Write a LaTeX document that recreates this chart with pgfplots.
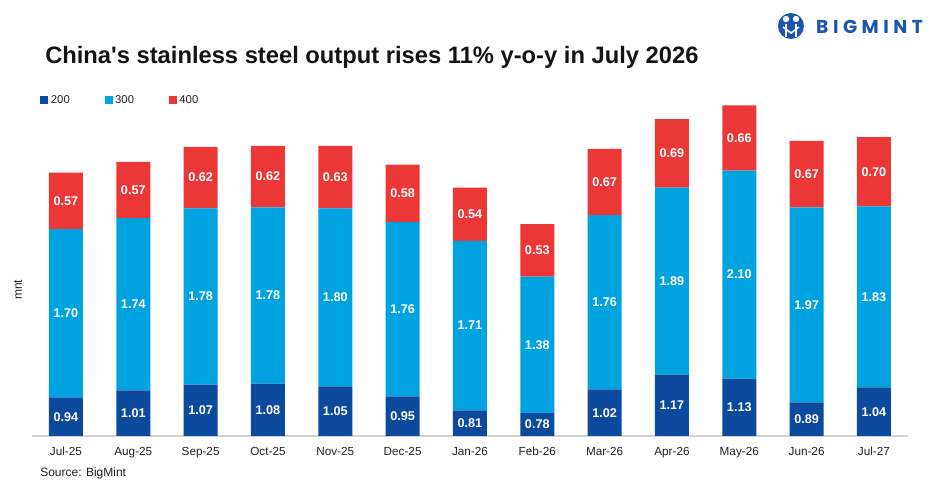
\documentclass[border=0pt]{standalone}
\usepackage{fontspec}
\setmainfont{Liberation Sans}
\newfontfamily\logofont{Poppins}[LetterSpace=24]
\usepackage{pgfplots}
\usepackage{pgfplotstable}
\pgfplotsset{compat=1.18}
\definecolor{c200}{HTML}{0B4A9C}
\definecolor{c300}{HTML}{00A3DF}
\definecolor{c400}{HTML}{EC3737}
\definecolor{logoblue}{HTML}{1A55B0}
\definecolor{txt}{HTML}{222222}
\pgfplotsset{sqlegend/.style={legend image code/.code={\fill[##1] (0pt,-3pt) rectangle (6pt,3pt);}}}
\pgfplotstableread{
x d200 d300 d400
0 0.94 1.70 0.57
1 1.01 1.74 0.57
2 1.07 1.78 0.62
3 1.08 1.78 0.62
4 1.05 1.80 0.63
5 0.95 1.76 0.58
6 0.81 1.71 0.54
7 0.78 1.38 0.53
8 1.02 1.76 0.67
9 1.17 1.89 0.69
10 1.13 2.10 0.66
11 0.89 1.97 0.67
12 1.04 1.83 0.70
}\data
\begin{document}
\begin{tikzpicture}
\path[use as bounding box] (-24.225pt,-45.75pt) rectangle (680.8pt,327pt);
\begin{axis}[
  at={(0,0)}, anchor=south west,
  x=50.5pt, y=74.25pt,
  xmin=-0.5, xmax=12.5, ymin=0.55, ymax=3.94,
  ybar stacked, bar width=25.5pt,
  axis x line*=bottom, axis y line=none,
  x axis line style={draw=black!18, line width=1.1pt, -},
  xtick={0,...,12},
  xticklabels={Jul-25,Aug-25,Sep-25,Oct-25,Nov-25,Dec-25,Jan-26,Feb-26,Mar-26,Apr-26,May-26,Jun-26,Jul-27},
  xtick style={draw=none},
  xticklabel style={font=\fontsize{8.8}{10}\selectfont, text=txt, yshift=-3pt, text height=1.6ex, text depth=0.3ex},
  ytick=\empty,
  /pgf/number format/assume math mode=true,
  legend style={at={(0.0088,1.0)}, anchor=west, draw=none, fill=none, inner sep=0pt,
    font=\fontsize{8.5}{10}\selectfont, text=txt,
    /tikz/every even column/.append style={column sep=24pt}},
  legend columns=3,
  legend cell align=left,
  visualization depends on=rawy\as\rawy,
  nodes near coords={\pgfmathprintnumber[fixed,fixed zerofill,precision=2,assume math mode=true]{\rawy}},
  every node near coord/.append style={anchor=center, font=\bfseries\fontsize{9.5}{10}\selectfont, text=white},
]
\addplot[fill=c200, draw=none, sqlegend, every node near coord/.append style={yshift=20.42pt}] table[x=x,y=d200] {\data};
\addplot[fill=c300, draw=none, sqlegend] table[x=x,y=d300] {\data};
\addplot[fill=c400, draw=none, sqlegend] table[x=x,y=d400] {\data};
\legend{200,300,400}
\end{axis}
\begin{scope}[shift={(-24.225pt,327pt)}, x=0.75pt, y=-0.75pt]
\node[anchor=base west, inner sep=0pt, font=\bfseries\fontsize{17.8}{20}\selectfont, text=black!92] at (45,64) {China\textquotesingle s stainless steel output rises 11\% y-o-y in July 2026};
\node[anchor=base west, inner sep=0pt, font=\fontsize{9}{10}\selectfont, text=txt] at (40,477) {Source: BigMint};
\node[rotate=90, inner sep=0pt, font=\fontsize{9}{10}\selectfont, text=txt] at (18,290) {mnt};
\node[anchor=west, inner sep=0pt, font=\logofont\bfseries\fontsize{14}{15}\selectfont, text=logoblue] at (816,27) {BIGMINT};
\fill[logoblue] (791,26) circle (13);
\fill[white] (786,19) circle (3.2);
\fill[white] (796,19) circle (3.2);
\draw[white, line width=1.6pt] (786,24) -- (786,37);
\draw[white, line width=1.6pt] (796,24) -- (796,37);
\draw[white, line width=1.2pt] (783,27) -- (791,33) -- (799,27);
\end{scope}
\end{tikzpicture}
\end{document}
